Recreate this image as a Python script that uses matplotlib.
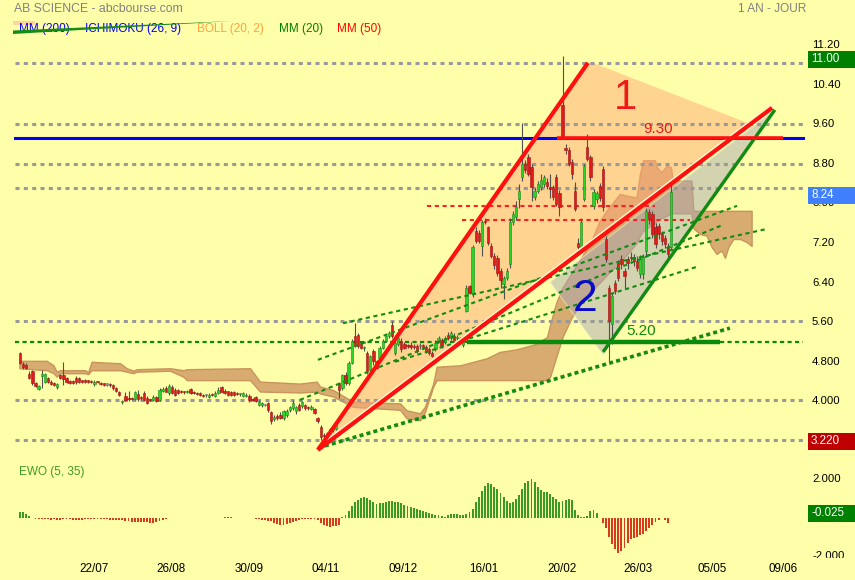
import numpy as np
import matplotlib
matplotlib.use("Agg")
import matplotlib.pyplot as plt
from matplotlib.patches import Polygon, Rectangle
from matplotlib.transforms import blended_transform_factory

plt.rcParams['font.family'] = ['Liberation Sans', 'DejaVu Sans']
plt.rcParams['lines.scale_dashes'] = False

# ---------------- DATA (daily candles, index = trading day) ----------------
opens = [
    4.97, 4.75, 4.74, 4.56, 4.62, 4.37, 4.26, 4.52, 4.40, 4.47,
    4.40, 4.38, 4.29, 4.54, 4.53, 4.47, 4.41, 4.41, 4.47, 4.47,
    4.42, 4.42, 4.41, 4.42, 4.35, 4.40, 4.37, 4.36, 4.34, 4.35,
    4.34, 4.27, 4.19, 3.98, 4.10, 4.05, 4.05, 4.05, 4.15, 4.07,
    4.17, 4.07, 4.03, 4.03, 4.08, 4.03, 4.22, 4.27, 4.17, 4.30,
    4.24, 4.24, 4.20, 4.19, 4.18, 4.25, 4.18, 4.17, 4.16, 4.13,
    4.12, 4.08, 4.14, 4.10, 4.17, 4.30, 4.22, 4.20, 4.19, 4.19,
    4.15, 4.14, 4.11, 4.10, 4.10, 4.04, 4.09, 3.93, 3.92, 3.93,
    3.96, 3.78, 3.65, 3.71, 3.73, 3.66, 3.72, 3.83, 3.86, 3.80,
    3.93, 3.90, 3.92, 3.88, 3.85, 3.84, 3.66, 3.49, 3.33, 3.33,
    3.36, 3.42, 3.45, 4.37, 4.27, 4.54, 4.37, 4.78, 5.32, 5.35,
    5.18, 5.08, 4.98, 4.64, 5.01, 4.81, 4.88, 5.08, 5.22, 5.32,
    5.55, 4.98, 5.15, 5.23, 5.15, 5.12, 5.14, 5.11, 5.12, 5.11,
    5.13, 5.10, 5.05, 4.98, 5.05, 5.25, 5.25, 5.19, 5.35, 5.29,
    5.32, 5.28, 5.25, 5.13, 5.83, 6.33, 6.20, 7.45, 7.41, 7.14,
    7.65, 7.52, 7.14, 6.94, 6.90, 6.64, 6.37, 6.50, 6.77, 7.62,
    7.72, 8.09, 8.53, 8.80, 8.94, 8.73, 8.12, 8.26, 8.33, 8.40,
    8.43, 8.33, 8.33, 8.53, 8.20, 9.98, 9.12, 9.07, 8.83, 8.26,
    7.21, 7.11, 8.09, 9.14, 8.93, 7.95, 8.08, 8.35, 8.70, 7.28,
    6.30, 5.56, 6.40, 6.80, 6.87, 6.64, 6.87, 6.91, 6.91, 6.84,
    6.57, 6.57, 7.04, 7.82, 7.79, 7.52, 7.55, 7.38, 7.31, 7.14,
    7.11,
]
closes = [
    4.78, 4.69, 4.68, 4.47, 4.37, 4.31, 4.31, 4.55, 4.56, 4.40,
    4.35, 4.34, 4.35, 4.47, 4.46, 4.40, 4.38, 4.38, 4.39, 4.40,
    4.40, 4.40, 4.40, 4.39, 4.40, 4.39, 4.35, 4.34, 4.34, 4.33,
    4.27, 4.22, 4.13, 4.00, 4.03, 4.04, 4.04, 4.19, 4.05, 4.06,
    4.03, 3.97, 4.02, 4.08, 4.01, 4.23, 4.26, 4.20, 4.32, 4.17,
    4.13, 4.17, 4.18, 4.18, 4.20, 4.17, 4.17, 4.15, 4.13, 4.11,
    4.12, 4.13, 4.13, 4.17, 4.24, 4.20, 4.17, 4.13, 4.12, 4.13,
    4.14, 4.15, 4.16, 4.13, 4.02, 4.03, 4.00, 3.99, 3.96, 3.93,
    3.82, 3.60, 3.69, 3.66, 3.67, 3.80, 3.80, 3.88, 3.96, 3.88,
    3.83, 3.98, 3.86, 3.86, 3.89, 3.77, 3.60, 3.29, 3.30, 3.36,
    3.44, 3.50, 3.52, 4.24, 4.54, 4.37, 4.78, 5.22, 5.12, 5.12,
    5.08, 5.09, 4.61, 4.91, 4.81, 4.68, 5.08, 5.22, 5.32, 5.39,
    5.32, 5.18, 5.28, 5.05, 5.08, 5.11, 5.09, 5.10, 5.01, 5.11,
    5.10, 5.00, 4.98, 4.92, 5.18, 5.28, 5.12, 5.29, 5.28, 5.39,
    5.25, 5.29, 5.27, 5.25, 6.30, 6.20, 7.11, 7.25, 7.25, 7.62,
    7.62, 7.21, 6.94, 6.75, 6.60, 6.45, 6.50, 6.64, 7.62, 7.79,
    7.92, 8.26, 8.80, 8.67, 8.60, 8.33, 8.26, 8.40, 8.47, 8.53,
    8.36, 8.29, 8.13, 7.99, 7.92, 9.34, 9.08, 8.80, 8.60, 7.89,
    7.11, 7.62, 8.75, 8.90, 8.53, 8.23, 8.20, 8.10, 7.92, 6.87,
    5.62, 6.13, 6.23, 6.50, 6.77, 6.54, 6.80, 6.90, 6.84, 6.70,
    6.87, 6.91, 7.85, 7.68, 7.38, 7.18, 7.38, 7.25, 7.18, 6.97,
    8.24,
]
# wick lengths above / below the body, in cents
wick_up = [
    3, 4, 3, 5, 2, 3, 2, 9, 2, 3,   3, 2, 3, 2, 27, 3, 3, 2, 4, 3,
    2, 3, 2, 2, 3, 2, 3, 2, 2, 3,   2, 3, 3, 3, 10, 15, 3, 2, 8, 4,
    5, 3, 2, 4, 3, 4, 3, 5, 3, 4,   3, 2, 3, 2, 3, 2, 4, 2, 3, 2,
    2, 3, 3, 3, 6, 2, 3, 2, 3, 2,   3, 2, 3, 3, 4, 3, 2, 3, 3, 2,
    3, 3, 4, 3, 5, 3, 4, 3, 6, 3,   4, 3,
    3, 2, 3, 3, 2, 3, 4, 2, 3, 3,   3, 3, 2, 5, 3, 4, 27, 3, 4, 2,
    4, 3, 5, 3, 3, 4, 2, 3, 7, 4,   5, 6, 4, 3, 5, 4, 3, 6, 3, 4,
    5, 4, 6, 5, 4, 3, 5, 4, 6, 5,   4, 3, 6, 3, 4, 8, 5, 4, 5, 3,
    6, 5,
    5, 6, 4, 5, 8, 6, 13, 14, 82, 8,   6, 7, 5, 6, 13, 5, 8, 27, 5, 7,
    8, 99, 8, 7, 7, 17, 9, 8, 5, 27,   4, 6, 5, 6, 5, 6, 5, 5, 6, 5,
    8, 6, 7, 10, 6, 9, 8, 6, 5, 7,     6, 8, 5, 7, 6, 5, 16,
]
wick_dn = [
    3, 3, 3, 2, 3, 2, 2, 25, 3, 3,  2, 3, 3, 2, 13, 3, 2, 3, 4, 2,
    3, 2, 3, 2, 3, 2, 2, 3, 2, 3,   3, 3, 3, 4, 3, 4, 2, 3, 4, 3,
    2, 3, 2, 3, 3, 2, 3, 2, 4, 3,   2, 3, 2, 3, 2, 3, 2, 3, 2, 2,
    3, 2, 3, 2, 3, 2, 2, 3, 2, 3,   2, 3, 3, 2, 3, 3, 2, 3, 3, 2,
    3, 6, 4, 3, 3, 4, 3, 4, 3, 5,   3, 4,
    3, 3, 2, 3, 3, 7, 3, 3, 2, 3,   3, 17, 3, 4, 3, 3, 3, 4, 3, 6,
    6, 4, 8, 3, 4, 3, 2, 3, 3, 4,   3, 5, 3, 4, 3, 4, 3, 5, 4, 3,
    4, 3, 4, 3, 5, 4, 3, 4, 3, 4,   3, 4, 3, 3, 10, 4, 5, 21, 4, 6,
    5, 8,
    6, 15, 30, 5, 7, 6, 5, 19, 8, 6,   5, 28, 6, 5, 6, 7, 6, 19, 7, 5,
    17, 4, 8, 5, 10, 4, 16, 6, 5, 5,   8, 6, 7, 6, 7, 5, 80, 41, 6, 6,
    10, 24, 12, 7, 10, 6, 8, 9, 10, 9,  7, 8, 10, 9, 8, 12, 6,
]
nan = float('nan')
ewo = (
    [0.26, 0.26, 0.17, 0.09, nan]
    + [-0.08, -0.10, -0.10, -0.10, -0.10, -0.12, -0.10, -0.12, -0.12, -0.10, -0.10,
       -0.10, -0.12, -0.12, -0.12, -0.12, -0.10, -0.10, -0.10, -0.10, -0.08]
    + [-0.10, -0.10, -0.10, -0.12, -0.12, -0.12, -0.14, -0.14, -0.16, -0.18]
    + [-0.22, -0.24, -0.24, -0.24, -0.24, -0.24, -0.26, -0.26, -0.24, -0.20, -0.14, -0.08]
    + [-0.04, nan, nan, nan, nan, nan, -0.04, nan, nan, nan, nan, nan, nan, nan,
       -0.04, -0.04, nan, nan, 0.03, 0.03, 0.03, nan, nan, nan, nan, nan,
       -0.04, -0.05]
    + [-0.08, -0.10, -0.12, -0.14, -0.16, -0.20, -0.28, -0.34, -0.38, -0.38, -0.34, -0.28,
       -0.22, -0.18, -0.14, -0.10, -0.10, -0.08, -0.08, -0.10, -0.12]
    + [-0.30, -0.40, -0.46, -0.48, -0.46, -0.43, -0.38]
    + [0.03, 0.14, 0.35, 0.62, 0.83, 0.92, 1.00, 1.09, 0.99, 0.92,
       0.78, 0.69, 0.73, 0.76, 0.81, 0.85, 0.85, 0.83, 0.80, 0.76,
       0.64, 0.61, 0.52, 0.49, 0.43, 0.38, 0.33, 0.26, 0.21]
    + [0.17, 0.15, 0.12, 0.10, 0.03, 0.15, 0.17, 0.17, 0.17, 0.15, 0.15, 0.17]
    + [0.26, 0.43, 0.78, 1.04, 1.39, 1.64, 1.78, 1.73, 1.61, 1.50,
       1.26, 1.07, 0.87, 0.74, 0.81, 0.95, 1.16, 1.47, 1.77, 1.90,
       1.99, 1.82, 1.61, 1.44, 1.35, 1.30, 1.21, 1.09, 0.95, 0.83,
       0.87, 0.92, 0.95, 0.90, 0.38, 0.12, 0.03, 0.03, 0.09, 0.35,
       0.38, 0.22, nan, -0.26, -0.52, -0.99, -1.39, -1.64, -1.82, -1.73,
       -1.59, -1.33, -1.13, -1.04, -0.99, -0.92, -0.87, -0.69, -0.57, -0.40,
       -0.23, -0.12, nan, -0.12, -0.26, -0.025]
)

# Ichimoku cloud outline (trading-day index, upper edge, lower edge)
cloud_idx = [-0.2, 8.6, 10.8, 11.8, 12.9, 21.0, 22.0, 23.1, 32.3, 34.4, 36.6, 37.6,
             48.4, 52.7, 53.8, 74.2, 77.4, 90.3, 95.7, 96.8, 101, 107.5, 122.6,
             124.7, 129, 130.6, 133.3, 134.4, 142, 150.5, 154.8, 160, 166, 170,
             171, 173, 175, 178, 181, 184, 187, 190, 193.5, 196.2, 198.9, 200,
             201, 204.8, 205.5, 206.9, 208.6, 210, 210.5, 216.6, 217.2, 219.4,
             221.5, 223.1, 224.7, 226.3, 227.4, 228.5, 230.1, 232.3, 234.4, 236]
cloud_top = [4.82, 4.82, 4.73, 4.60, 4.63, 4.63, 4.59, 4.80, 4.77, 4.67, 4.62, 4.65,
             4.67, 4.63, 4.65, 4.67, 4.40, 4.36, 4.40, 4.30, 4.23, 3.99, 3.96,
             3.82, 3.76, 3.89, 4.36, 4.70, 4.73, 4.87, 5.00, 5.05, 5.15, 5.30,
             5.55, 6.00, 6.30, 6.60, 6.90, 7.20, 7.65, 7.92, 8.19, 8.15, 8.12, 8.60,
             8.87, 8.87, 8.73, 8.63, 8.76, 8.73, 8.46, 8.46, 7.85, 7.85,
             7.85, 7.85, 7.85, 7.85, 7.85, 7.85, 7.85, 7.85, 7.85, 7.85]
cloud_bot = [4.67, 4.63, 4.57, 4.50, 4.57, 4.57, 4.55, 4.63, 4.63, 4.60, 4.57, 4.60,
             4.62, 4.50, 4.43, 4.43, 4.20, 4.18, 4.20, 4.16, 4.10, 3.89, 3.83,
             3.66, 3.62, 3.78, 4.30, 4.43, 4.43, 4.43, 4.43, 4.43, 4.43, 4.43,
             4.50, 4.90, 5.30, 5.70, 6.00, 6.20, 6.40, 6.60, 6.80, 7.00, 7.20, 7.35,
             7.45, 7.60, 7.65, 7.70, 7.75, 7.80, 7.80, 7.80, 7.50, 7.38,
             7.35, 7.12, 6.98, 7.05, 6.90, 7.12, 7.28, 7.28, 7.22, 7.14]

# drawn objects (index, price)
tri1_i = [96.1, 183.9, 235.8];  tri1_p = [3.02, 10.86, 9.60]
tri2_i = [171.0, 188.1, 243.5]; tri2_p = [6.41, 4.94, 9.89]
red_steep_i = [96.1, 183.2];    red_steep_p = [3.02, 10.84]
red_low_i = [96.1, 242.6];      red_low_p = [3.02, 9.93]
green_edge_i = [188.1, 243.5];  green_edge_p = [5.00, 9.89]
dotted_sup_i = [96.1, 229.0];   dotted_sup_p = [3.06, 5.48]
channel_i = [[96.1, 231.3], [90.3, 226.5], [104.2, 240.6], [121.0, 218.4]]
channel_p = [[4.84, 7.95], [4.03, 7.56], [5.58, 7.48], [4.80, 6.72]]
gray_levels = [10.84, 9.61, 8.79, 8.31, 5.62, 4.03, 3.22]
support_520 = 5.20
support_solid_i = [144.2, 225.8]
red_dash_levels = [7.95, 7.66]
red_dash_i = [[131.3, 204.8], [142.6, 216.1]]
line_930 = 9.33
line_930_i = [173.2, 246.1]
blue_level = 9.33

price_ticks = [11.2, 10.4, 9.6, 8.8, 8.0, 7.2, 6.4, 5.6, 4.8, 4.0]
price_tick_labels = ['11.20', '10.40', '9.60', '8.80', '8.00', '7.20', '6.40', '5.60', '4.800', '4.000']
ewo_ticks = [2.0, -2.0]
ewo_tick_labels = ['2.000', '-2.000']
date_labels = ['22/07', '26/08', '30/09', '04/11', '09/12', '16/01', '20/02', '26/03', '05/05', '09/06']
date_index = [24, 48.7, 73.9, 98.7, 123.5, 149.7, 174.8, 199.4, 223.2, 246.1]

# ---------------- LAYOUT ----------------
W, H = 855, 580
BG = '#FFFFAA'
fig = plt.figure(figsize=(W / 100, H / 100), dpi=100)
fig.patch.set_facecolor(BG)

X0, XSTEP = 20.0, 3.1
P0Y, PPU = 45.0, 49.5
def idx_at(px): return (px - X0) / XSTEP
def price_at(py): return 11.2 - (py - P0Y) / PPU
EZ, EPPU = 517.5, 19.25
def ewo_at(py): return (EZ - py) / EPPU

ax = fig.add_axes([0, 1 - 455 / H, 1, (455 - 36) / H])
ax.set_xlim(idx_at(0), idx_at(W)); ax.set_ylim(price_at(455), price_at(36))
ax.axis('off')
ax2 = fig.add_axes([0, 1 - 558 / H, 1, (558 - 455) / H])
ax2.set_xlim(idx_at(0), idx_at(W)); ax2.set_ylim(ewo_at(558), ewo_at(455))
ax2.axis('off')

XL, XR = idx_at(15), idx_at(803)

# cloud
ax.fill_between(cloud_idx, cloud_bot, cloud_top, color='#D8AB70', lw=1.0,
                edgecolor='#C8935C', zorder=1)
# triangles
ax.add_patch(Polygon(list(zip(tri1_i, tri1_p)), closed=True, fc='#FFA878', ec='none', alpha=0.5, zorder=2))
ax.add_patch(Polygon(list(zip(tri2_i, tri2_p)), closed=True, fc='#A8A8B4', ec='#F4EEC8', lw=1.0, alpha=0.5, zorder=2))

# horizontal gray dotted lines
for lv in gray_levels:
    ax.plot([XL, XR], [lv, lv], color='#999999', lw=2.2, dashes=(2.9, 3.1), zorder=3)
# blue line
ax.plot([XL, XR], [blue_level, blue_level], color='#0000FF', lw=2.2, zorder=3)
# green 5.20
ax.plot([XL, XR], [support_520, support_520], color='#0A8A0A', lw=1.6, dashes=(3.0, 2.4), zorder=3)
ax.plot(support_solid_i, [support_520, support_520], color='#0A8A0A', lw=3.2, zorder=6, solid_capstyle='butt')
# red dashed
for lv, (a, b) in zip(red_dash_levels, red_dash_i):
    ax.plot([a, b], [lv, lv], color='#FF2020', lw=1.5, dashes=(3.0, 2.6), zorder=3)
# channel lines
for xs, ys in zip(channel_i, channel_p):
    ax.plot(xs, ys, color='#138A13', lw=1.5, dashes=(3.0, 2.6), zorder=6)
ax.plot(dotted_sup_i, dotted_sup_p, color='#138A13', lw=2.6, dashes=(2.9, 2.3), zorder=6)

# candles
o = np.array(opens); c = np.array(closes)
n = len(c)
idx = np.arange(n)
top = np.maximum(o, c); bot = np.minimum(o, c)
hi = top + np.array(wick_up[:n]) / 100.0
lo = bot - np.array(wick_dn[:n]) / 100.0
ax.vlines(idx, lo, hi, color='#505050', lw=0.8, zorder=4)
hgt = np.maximum(top - bot, 0.025)
up = c > o
dn = c < o
eq = c == o
ax.bar(idx[up], hgt[up], bottom=bot[up], width=0.72, color='#2BD42B', edgecolor='#178A17', lw=0.4, zorder=5)
ax.bar(idx[dn], hgt[dn], bottom=bot[dn], width=0.72, color='#E01B1B', edgecolor='#A01010', lw=0.4, zorder=5)
ax.bar(idx[eq], hgt[eq], bottom=bot[eq], width=0.72, color='#8C8C8C', edgecolor='#707070', lw=0.4, zorder=5)

# trend lines
ax.plot(red_low_i, [p + 0.07 for p in red_low_p], color='#FFF2C8', lw=1.2, zorder=6)
ax.plot(red_steep_i, red_steep_p, color='#FF1010', lw=3.0, zorder=7, solid_capstyle='butt')
ax.plot(red_low_i, red_low_p, color='#FF1010', lw=3.0, zorder=7, solid_capstyle='butt')
ax.plot(green_edge_i, green_edge_p, color='#118A11', lw=2.4, zorder=7, solid_capstyle='butt')
ax.plot(line_930_i, [line_930, line_930], color='#FF1010', lw=2.6, zorder=7, solid_capstyle='butt')

ax.text(195.2, 10.13, '1', color='#F01818', fontsize=30, ha='center', va='center', zorder=8)
ax.text(182.3, 6.05, '2', color='#0A0AC8', fontsize=32, ha='center', va='center', zorder=8)
ax.text(205.8, 9.50, '9.30', color='#F01818', fontsize=11, ha='center', va='center', zorder=8)
ax.text(200.3, 5.42, '5.20', color='#0A8A0A', fontsize=11, ha='center', va='center', zorder=8)

# price axis labels
xlab = idx_at(812)
for v, s in zip(price_ticks, price_tick_labels):
    ax.text(xlab, v, s, fontsize=8.2, ha='left', va='center', color='#000000', zorder=3)
for v, s in zip(ewo_ticks, ewo_tick_labels):
    ax2.text(xlab, v, s, fontsize=8.2, ha='left', va='center', color='#000000', clip_on=True)

# EWO histogram
e = np.array(ewo[:n])
pos = e >= 0
ax2.bar(idx[pos], e[pos], width=0.62, color='#3A9A22', zorder=3)
ax2.bar(idx[~pos], e[~pos], width=0.62, color='#D83A20', zorder=3)

# date labels
tr = blended_transform_factory(ax2.transData, fig.transFigure)
for d, s in zip(date_index, date_labels):
    fig.text(d, 1 - 569 / H, s, transform=tr, fontsize=8.4, ha='center', va='center', color='#000000')

# value boxes on the right
def vbox(cy, txt, col):
    fig.patches.append(Rectangle((808 / W, 1 - (cy + 8.5) / H), 47 / W, 17 / H,
                                 transform=fig.transFigure, fc=col, ec='none', zorder=10))
    fig.text(811 / W, 1 - cy / H, txt, color='white', fontsize=8.4, ha='left', va='center', zorder=11)
vbox(59.5, '11.00', '#008000')
vbox(195, '8.24', '#4080FF')
vbox(441.5, '3.220', '#C00000')
vbox(513, '-0.025', '#008000')

# headers
fig.text(14 / W, 1 - 9 / H, 'AB SCIENCE - abcbourse.com', color='#808080', fontsize=8.8, ha='left', va='center')
fig.text(806 / W, 1 - 9 / H, '1 AN - JOUR', color='#808080', fontsize=8.6, ha='right', va='center')
fig.patches.append(Rectangle((13 / W, 1 - 25 / H), 22 / W, 4 / H, transform=fig.transFigure,
                             fc='#FFD59E', ec='none', zorder=1))
legend = [('MM (200)', '#0000FF', 19), ('ICHIMOKU (26, 9)', '#0000FF', 85),
          ('BOLL (20, 2)', '#FFA040', 197), ('MM (20)', '#008000', 279), ('MM (50)', '#FF0000', 337)]
for s, col, x in legend:
    fig.text(x / W, 1 - 29 / H, s, color=col, fontsize=8.5, ha='left', va='center', zorder=2)
fig.patches.append(Polygon([(13 / W, 1 - 30.5 / H), (13 / W, 1 - 34 / H), (233 / W, 1 - 21 / H)],
                           closed=True, transform=fig.transFigure, fc='#168C16', ec='none', zorder=3))
fig.text(19 / W, 1 - 472 / H, 'EWO (5, 35)', color='#3C9C28', fontsize=8.5, ha='left', va='center')

fig.savefig('out.png', dpi=100, facecolor=BG)
